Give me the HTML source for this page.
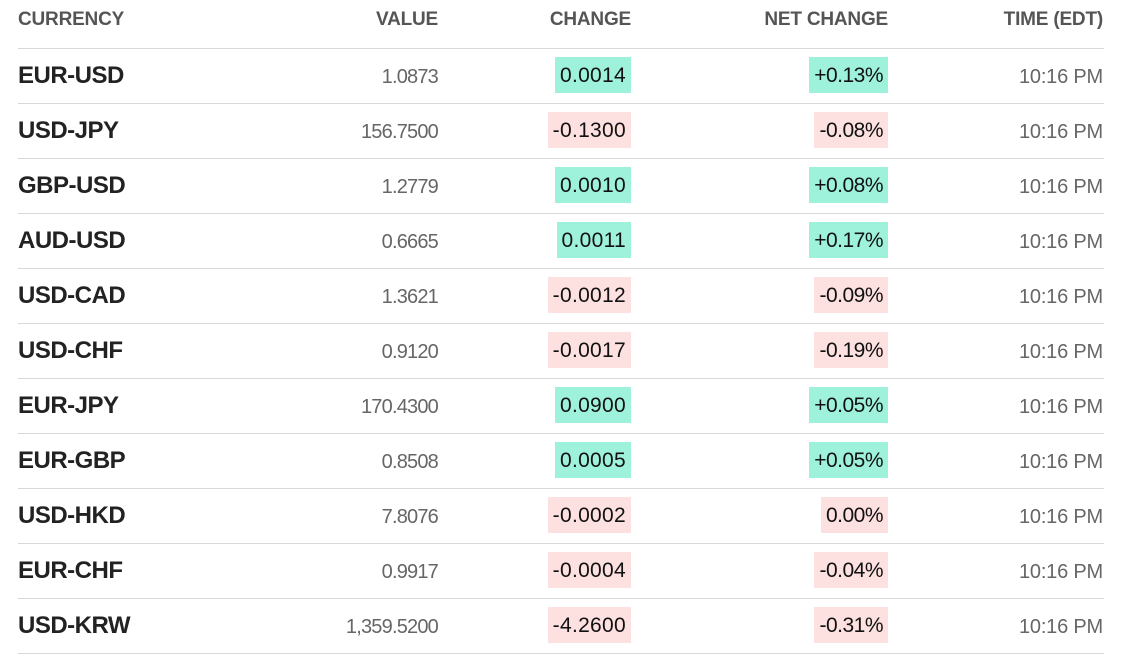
<!DOCTYPE html>
<html><head><meta charset="utf-8"><style>
body{margin:0;width:1123px;height:644px;background:#fff;overflow:hidden;font-family:"Liberation Sans",Arial,sans-serif;}
.h{position:absolute;top:9px;font-size:19px;font-weight:bold;color:#555;letter-spacing:-0.2px;}
.line{position:absolute;left:18px;width:1086px;height:1px;background:#d9d9d9;}
.n{position:absolute;left:18px;font-weight:bold;font-size:24px;color:#222;letter-spacing:-0.5px;}
.v{position:absolute;right:685px;font-size:20px;color:#666;letter-spacing:-0.8px;}
.b{position:absolute;height:36px;line-height:38px;font-size:21px;color:#111;padding:0 5px;letter-spacing:-0.5px;}
.g{background:#9ef2dc;}.r{background:#fde0e0;}
.c{right:492px;letter-spacing:0.3px;}.nc{right:235px;}
.t{position:absolute;right:20px;font-size:20px;color:#666;letter-spacing:-0.2px;}
</style></head><body>
<div class="h" style="left:18px">CURRENCY</div>
<div class="h" style="right:685px">VALUE</div>
<div class="h" style="right:492px">CHANGE</div>
<div class="h" style="right:235px">NET CHANGE</div>
<div class="h" style="right:20px">TIME (EDT)</div>
<div class="line" style="top:48px"></div>
<div id="rows"></div>
<script>
var d=[["EUR-USD","1.0873","0.0014","+0.13%",1],["USD-JPY","156.7500","-0.1300","-0.08%",0],["GBP-USD","1.2779","0.0010","+0.08%",1],["AUD-USD","0.6665","0.0011","+0.17%",1],["USD-CAD","1.3621","-0.0012","-0.09%",0],["USD-CHF","0.9120","-0.0017","-0.19%",0],["EUR-JPY","170.4300","0.0900","+0.05%",1],["EUR-GBP","0.8508","0.0005","+0.05%",1],["USD-HKD","7.8076","-0.0002","0.00%",0],["EUR-CHF","0.9917","-0.0004","-0.04%",0],["USD-KRW","1,359.5200","-4.2600","-0.31%",0]];
var h="";
d.forEach(function(r,i){var y=48+55*i;var c=r[4]?"g":"r";
h+='<div class="n" style="top:'+(y+14)+'px">'+r[0]+'</div>';
h+='<div class="v" style="top:'+(y+18)+'px">'+r[1]+'</div>';
h+='<div class="b c '+c+'" style="top:'+(y+9)+'px">'+r[2]+'</div>';
h+='<div class="b nc '+c+'" style="top:'+(y+9)+'px">'+r[3]+'</div>';
h+='<div class="t" style="top:'+(y+18)+'px">10:16 PM</div>';
h+='<div class="line" style="top:'+(y+55)+'px"></div>';});
document.getElementById("rows").innerHTML=h;
</script>
</body></html>
